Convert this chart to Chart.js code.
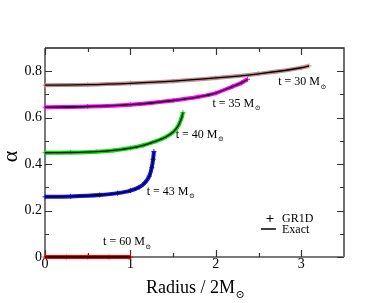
<!DOCTYPE html>
<html lang="en">
<head>
<meta charset="UTF-8">
<title>Lapse alpha vs radius</title>
<script src="https://cdn.jsdelivr.net/npm/chart.js"></script>
<style>
    html, body { margin: 0; padding: 0; background: #fff; }
    #wrap { width: 387px; height: 303px; }
</style>
</head>
<body>
<div id="wrap"><canvas id="alphaChart" width="387" height="303"></canvas></div>
<script>
// values: radius / 2M and lapse alpha, one pair per time slice
const r30 = [0, 0.5, 1.0, 1.5, 2.0, 2.5, 3.0, 3.09];
const a30 = [0.740, 0.742, 0.748, 0.757, 0.771, 0.789, 0.815, 0.823];
const r35 = [0, 0.5, 1.0, 1.5, 1.8, 2.0, 2.2, 2.3, 2.37];
const a35 = [0.645, 0.648, 0.656, 0.674, 0.690, 0.706, 0.735, 0.750, 0.765];
const r40 = [0, 0.3, 0.6, 0.8, 1.0, 1.15, 1.3, 1.42, 1.5, 1.56, 1.6, 1.615];
const a40 = [0.449, 0.450, 0.4535, 0.459, 0.469, 0.481, 0.499, 0.518, 0.538, 0.565, 0.600, 0.622];
const r43 = [0, 0.3, 0.64, 0.85, 1.0, 1.1, 1.17, 1.22, 1.25, 1.265, 1.275];
const a43 = [0.259, 0.261, 0.267, 0.275, 0.286, 0.300, 0.320, 0.348, 0.385, 0.420, 0.454];
const r60 = [0, 0.25, 0.5, 0.75, 1.0];
const a60 = [0, 0, 0, 0, 0];

const times = ['30', '35', '40', '43', '60'];
const radii = [r30, r35, r40, r43, r60];
const alphas = [a30, a35, a40, a43, a60];
const colors = ['#c08c8c', '#ff00ff', '#00dd00', '#1010ff', '#ff0000'];

// where each "t = .. M" note sits, in data units (left end, baseline)
const noteR = [2.73, 1.96, 1.53, 1.19, 0.68];
const noteA = [0.739, 0.648, 0.514, 0.268, 0.052];

const xTicks = [0, 1, 2, 3];
const xMinor = [0.5, 1.5, 2.5];
const yTicks = [0, 0.2, 0.4, 0.6, 0.8];
const yMinor = [0.1, 0.3, 0.5, 0.7];

const serif = '"Liberation Serif", "DejaVu Serif", serif';

const pts = (rs, as) => rs.map((r, i) => ({ x: r, y: as[i] }));

// exact solutions first so they are painted on top of the GR1D points
const datasets = [];
radii.forEach((rs, i) => {
    datasets.push({
        label: 'Exact t=' + times[i],
        data: pts(rs, alphas[i]),
        borderColor: '#000',
        borderWidth: 1.3,
        pointRadius: 0,
        cubicInterpolationMode: 'monotone',
        clip: 6
    });
});
radii.forEach((rs, i) => {
    datasets.push({
        label: 'GR1D t=' + times[i],
        data: pts(rs, alphas[i]),
        borderColor: colors[i],
        borderWidth: 4,
        pointStyle: 'cross',
        pointRadius: 2.5,
        pointBorderWidth: 1,
        pointBorderColor: colors[i],
        cubicInterpolationMode: 'monotone',
        clip: 6
    });
});

// text with an "M" followed by a lowered sun symbol
function drawSolar(ctx, text, x, y, size) {
    ctx.font = size + 'px ' + serif;
    ctx.fillText(text, x, y);
    const w = ctx.measureText(text).width;
    ctx.font = Math.round(size * 0.62) + 'px ' + serif;
    ctx.fillText('\u2299', x + w + 0.5, y + size * 0.3);
}

const decorations = {
    id: 'decorations',
    beforeDatasetsDraw(chart) {
        const { ctx, chartArea: ca, scales: { x, y } } = chart;
        ctx.save();

        // frame
        ctx.strokeStyle = '#222';
        ctx.lineWidth = 1.3;
        ctx.beginPath();
        ctx.moveTo(ca.left, ca.top); ctx.lineTo(ca.right, ca.top); ctx.lineTo(ca.right, ca.bottom);
        ctx.stroke();
        ctx.strokeStyle = '#7a7a7a';
        ctx.lineWidth = 2;
        ctx.beginPath();
        ctx.moveTo(ca.left, ca.top); ctx.lineTo(ca.left, ca.bottom); ctx.lineTo(ca.right, ca.bottom);
        ctx.stroke();

        // inward ticks on all four sides
        ctx.strokeStyle = '#333';
        ctx.lineWidth = 1.2;
        ctx.beginPath();
        const xt = (v, len) => {
            const px = Math.round(x.getPixelForValue(v)) + 0.5;
            ctx.moveTo(px, ca.bottom); ctx.lineTo(px, ca.bottom - len);
            ctx.moveTo(px, ca.top); ctx.lineTo(px, ca.top + len);
        };
        const yt = (v, len) => {
            const py = Math.round(y.getPixelForValue(v)) + 0.5;
            ctx.moveTo(ca.left, py); ctx.lineTo(ca.left + len, py);
            ctx.moveTo(ca.right, py); ctx.lineTo(ca.right - len, py);
        };
        xTicks.forEach(v => xt(v, 7));
        xMinor.forEach(v => xt(v, 4));
        yTicks.forEach(v => yt(v, 7));
        yMinor.forEach(v => yt(v, 4));
        ctx.stroke();
        ctx.restore();
    },
    afterDraw(chart) {
        const { ctx, chartArea: ca, scales: { x, y } } = chart;
        ctx.save();

        // time notes
        ctx.fillStyle = '#000';
        ctx.textBaseline = 'alphabetic';
        ctx.textAlign = 'left';
        times.forEach((t, i) => {
            drawSolar(ctx, 't = ' + t + ' M', x.getPixelForValue(noteR[i]), y.getPixelForValue(noteA[i]), 12);
        });

        // legend
        const lx = ca.left + 219, ly = ca.top + 167;
        ctx.strokeStyle = '#000';
        ctx.lineWidth = 1;
        ctx.beginPath();
        ctx.moveTo(lx + 6, ly); ctx.lineTo(lx + 6, ly + 7);
        ctx.moveTo(lx + 2.5, ly + 3.5); ctx.lineTo(lx + 9.5, ly + 3.5);
        ctx.stroke();
        ctx.lineWidth = 1.5;
        ctx.beginPath();
        ctx.moveTo(lx - 3, ly + 14); ctx.lineTo(lx + 12, ly + 14);
        ctx.stroke();
        ctx.font = '12px ' + serif;
        ctx.fillText('GR1D', lx + 18, ly + 7);
        ctx.fillText('Exact', lx + 18, ly + 18);

        // axis titles
        ctx.textAlign = 'left';
        ctx.font = '18px ' + serif;
        const xt1 = 'Radius / 2M';
        const tw = ctx.measureText(xt1).width + 8;
        drawSolar(ctx, xt1, (ca.left + ca.right) / 2 - tw / 2, 293, 18);

        ctx.translate(17, (ca.top + ca.bottom) / 2 + 4);
        ctx.rotate(-Math.PI / 2);
        ctx.textAlign = 'center';
        ctx.font = '22px ' + serif;
        ctx.fillText('\u03b1', 0, 0);
        ctx.restore();
    }
};

new Chart(document.getElementById('alphaChart'), {
    type: 'line',
    data: { datasets: datasets },
    options: {
        responsive: false,
        animation: false,
        layout: { padding: { left: 0, right: 43, top: 48, bottom: 0 } },
        plugins: { legend: { display: false }, tooltip: { enabled: false } },
        scales: {
            x: {
                type: 'linear',
                min: 0,
                max: 3.5,
                grid: { display: false, drawTicks: false },
                border: { display: false },
                afterBuildTicks: s => { s.ticks = xTicks.map(v => ({ value: v })); },
                afterFit: s => { s.height = 46; },
                ticks: {
                    padding: -1,
                    color: '#000',
                    font: { family: serif, size: 14 },
                    callback: v => String(v)
                }
            },
            y: {
                type: 'linear',
                min: 0,
                max: 0.9,
                grid: { display: false, drawTicks: false },
                border: { display: false },
                afterBuildTicks: s => { s.ticks = yTicks.map(v => ({ value: v })); },
                afterFit: s => { s.width = 45; },
                ticks: {
                    padding: 3,
                    color: '#000',
                    font: { family: serif, size: 14 },
                    callback: v => (v === 0 ? '0' : v.toFixed(1))
                }
            }
        }
    },
    plugins: [decorations]
});
</script>
</body>
</html>
